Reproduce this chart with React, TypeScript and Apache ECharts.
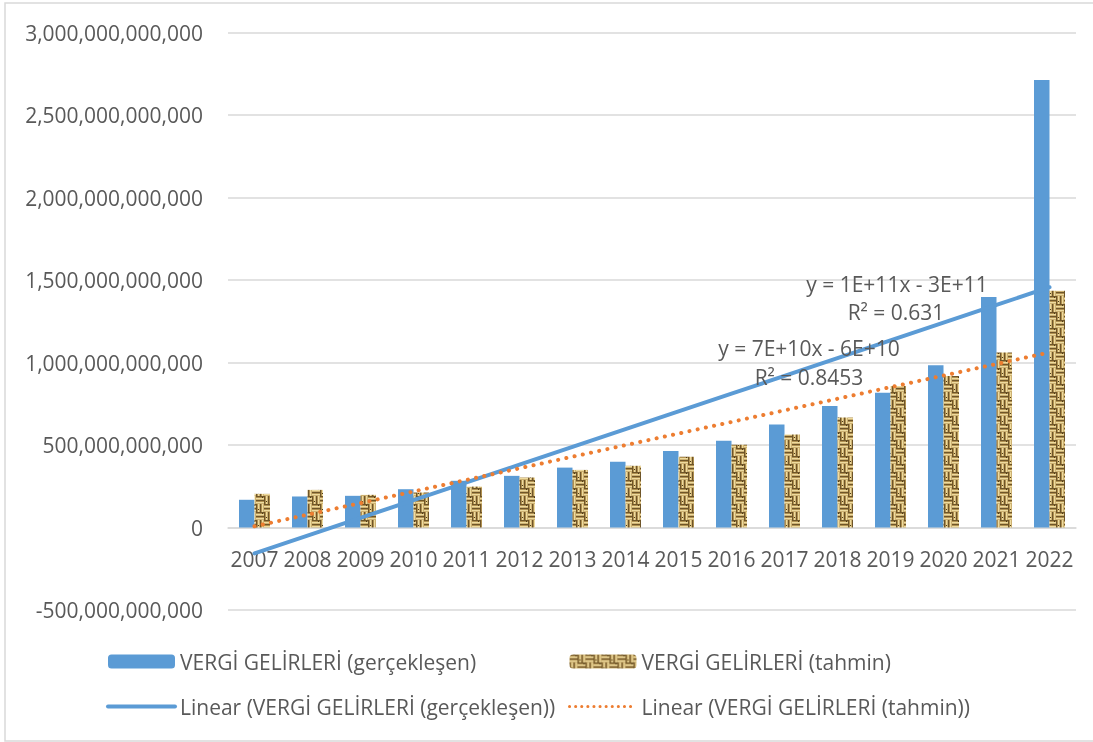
import React, { useEffect, useRef } from "react";
import * as echarts from "echarts";

const years = ["2007","2008","2009","2010","2011","2012","2013","2014","2015","2016","2017","2018","2019","2020","2021","2022"];
// billions TL
const actualB = [168, 188, 192, 232, 283, 313, 363, 398, 463, 526, 624, 736, 817, 984, 1397, 2712];
const forecastB = [204, 228, 198, 212, 248, 303, 349, 374, 429, 502, 563, 667, 858, 918, 1061, 1435];
const actual = actualB.map((v) => v * 1e9);
const forecast = forecastB.map((v) => v * 1e9);

const nameActual = "VERGİ GELİRLERİ (gerçekleşen)";
const nameForecast = "VERGİ GELİRLERİ (tahmin)";
const nameTrendActual = "Linear (VERGİ GELİRLERİ (gerçekleşen))";
const nameTrendForecast = "Linear (VERGİ GELİRLERİ (tahmin))";
const eqActual = ["y = 1E+11x - 3E+11", "R² = 0.631"];
const eqForecast = ["y = 7E+10x - 6E+10", "R² = 0.8453"];

// least-squares trendline (as Excel computes it, x = 1..n)
function linearTrend(ys: number[]): number[] {
  const n = ys.length;
  const xs = ys.map((_, i) => i + 1);
  const mx = xs.reduce((a, b) => a + b, 0) / n;
  const my = ys.reduce((a, b) => a + b, 0) / n;
  let sxy = 0, sxx = 0;
  for (let i = 0; i < n; i++) {
    sxy += (xs[i] - mx) * (ys[i] - my);
    sxx += (xs[i] - mx) * (xs[i] - mx);
  }
  const b = sxy / sxx;
  const a = my - b * mx;
  return xs.map((x) => a + b * x);
}

// woven burlap-like texture for the forecast bars
function makeWeave(): HTMLCanvasElement {
  const s = 8;
  const c = document.createElement("canvas");
  c.width = s * 2;
  c.height = s * 2;
  const g = c.getContext("2d")!;
  const dark = "#6e5529", mid = "#b09050", light = "#eedb9f", base = "#cdb172";
  g.fillStyle = base;
  g.fillRect(0, 0, 2 * s, 2 * s);
  const cols = [dark, mid, light, base];
  for (let cy = 0; cy < 2; cy++)
    for (let cx = 0; cx < 2; cx++) {
      const x0 = cx * s, y0 = cy * s;
      const horiz = (cx + cy) % 2 === 0;
      for (let b = 0; b < 2; b++) {
        const o = b * 4;
        for (let p = 0; p < 4; p++) {
          g.fillStyle = cols[p];
          if (horiz) g.fillRect(x0, y0 + o + p, s, 1);
          else g.fillRect(x0 + o + p, y0, 1, s);
        }
      }
      g.fillStyle = "#4e3b18";
      g.fillRect(x0 + (horiz ? 6 : 2), y0 + (horiz ? 1 : 5), 1, 1);
    }
  return c;
}

const FONT = "'Open Sans', 'Noto Sans', sans-serif";
const TXT = "#595959";
const HIDE = { color: "rgba(0,0,0,0)", borderColor: "rgba(0,0,0,0)", borderWidth: 0 };

export default function App() {
  const ref = useRef<HTMLDivElement>(null);
  useEffect(() => {
    document.body.style.margin = "0";
    const chart = echarts.init(ref.current!, null, { renderer: "svg" });
    const weave = makeWeave();
    const pattern: any = { image: weave, repeat: "repeat", imageWidth: weave.width, imageHeight: weave.height };
    const trendA = linearTrend(actual);
    const trendF = linearTrend(forecast);
    const textEl = (t: string, x: number, y: number) => ({
      type: "text",
      x,
      y,
      z: 100,
      style: { text: t, x: 0, y: 0, textAlign: "center", textVerticalAlign: "middle", font: `21px ${FONT}`, fill: TXT },
    });
    const legendBase = {
      orient: "vertical",
      top: 646,
      itemWidth: 67,
      itemHeight: 14,
      itemGap: 24,
      selectedMode: false,
      textStyle: { color: TXT, fontSize: 21, fontFamily: FONT },
    };
    chart.setOption({
      animation: false,
      textStyle: { fontFamily: FONT },
      grid: { left: 228, right: 17, top: 32.5, bottom: 132, containLabel: false },
      xAxis: {
        type: "category",
        data: years,
        offset: -82.5,
        axisLine: { onZero: false, lineStyle: { color: "#D9D9D9", width: 1.5 } },
        axisTick: { show: false },
        axisLabel: { color: TXT, fontSize: 21, fontFamily: FONT, margin: 21, interval: 0 },
      },
      yAxis: {
        type: "value",
        min: -500e9,
        max: 3000e9,
        interval: 500e9,
        axisLine: { show: false },
        axisTick: { show: false },
        splitLine: { lineStyle: { color: "#D9D9D9", width: 1.5 } },
        axisLabel: {
          color: TXT,
          fontSize: 21,
          fontFamily: FONT,
          margin: 25,
          formatter: (v: number) => v.toLocaleString("en-US"),
        },
      },
      legend: [
        {
          ...legendBase,
          left: 101,
          data: [nameActual, { name: nameTrendActual, itemStyle: HIDE, lineStyle: { width: 4, color: "#5B9BD5" } }],
        },
        {
          ...legendBase,
          left: 563,
          data: [
            nameForecast,
            { name: nameTrendForecast, itemStyle: HIDE, lineStyle: { width: 3, color: "#ED7D31", type: [0.1, 6], cap: "round" } },
          ],
        },
      ],
      series: [
        {
          name: nameActual,
          type: "bar",
          data: actual,
          barWidth: 15.5,
          barGap: "0%",
          itemStyle: { color: "#5B9BD5" },
        },
        {
          name: nameForecast,
          type: "bar",
          data: forecast,
          barWidth: 15.5,
          itemStyle: { color: pattern },
        },
        {
          name: nameTrendActual,
          type: "line",
          data: trendA,
          symbol: "none",
          z: 5,
          lineStyle: { color: "#5B9BD5", width: 4, cap: "round" },
          itemStyle: { color: "#5B9BD5" },
        },
        {
          name: nameTrendForecast,
          type: "line",
          data: trendF,
          symbol: "none",
          z: 5,
          lineStyle: { color: "#ED7D31", width: 4, type: [0.1, 8.3], cap: "round" },
          itemStyle: { color: "#ED7D31" },
        },
      ],
      graphic: [
        {
          type: "rect",
          shape: { x: 5, y: 3, width: 1100, height: 738 },
          style: { fill: "none", stroke: "#D9D9D9", lineWidth: 1.5 },
          silent: true,
        },
        textEl(eqActual[0], 897, 284),
        textEl(eqActual[1], 896, 312),
        textEl(eqForecast[0], 809, 348),
        textEl(eqForecast[1], 809, 377),
      ],
    });
    return () => chart.dispose();
  }, []);
  return <div ref={ref} style={{ position: "fixed", left: 0, top: 0, width: 1093, height: 742 }} />;
}
